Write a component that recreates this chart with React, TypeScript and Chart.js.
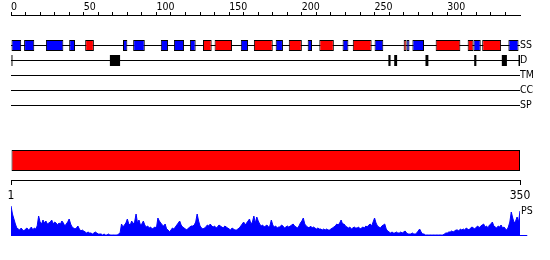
import React, { useEffect, useRef } from 'react';
import { Chart, registerables } from 'chart.js';

Chart.register(...registerables);

// ---------- data ----------
const SEQ_MAX = 350;
const topTickStep = 10;
const topLabelStep = 50;
const topLastTick = 340;
const bottomTickValues = [1, 350];

const trackNames = ['SS', 'D', 'TM', 'CC', 'SP'];
const psLabel = 'PS';

// secondary structure: helices (red) and strands (blue), residue ranges
const helixSegments: [number, number][] = [
  [51, 57], [132, 138], [140, 152], [167, 180], [191, 200], [212, 222],
  [235, 248], [270, 272], [292, 309], [314, 318], [324, 337],
];
const strandSegments: [number, number][] = [
  [0, 7], [9, 16], [24, 36], [40, 44], [77, 80], [84, 92], [103, 108],
  [112, 119], [123, 127], [158, 163], [182, 187], [204, 207], [228, 232],
  [250, 256], [272, 274], [276, 284], [318, 323], [342, 349],
];
// disordered regions
const disorderSegments: [number, number][] = [
  [0, 1], [68, 75], [259.5, 261], [263.5, 265.5], [285, 287],
  [318.5, 320], [337.5, 341], [349, 350],
];
// domain bar
const domainSegments: [number, number][] = [[0, 350]];

// PS profile, residues 0..350
const psScores = [
  30, 22, 17, 12, 8, 7, 6, 8, 6, 5,
  7, 8, 6, 7, 9, 6, 8, 7, 10, 20,
  14, 12, 16, 13, 15, 12, 13, 14, 16, 12,
  14, 13, 11, 13, 12, 15, 13, 10, 12, 14,
  17, 12, 9, 8, 7, 8, 10, 7, 5, 6,
  5, 4, 3, 4, 3, 3, 2, 3, 4, 3,
  2, 2, 2, 1, 2, 1, 1, 2, 1, 1,
  1, 1, 1, 1, 2, 3, 12, 9, 11, 13,
  17, 12, 11, 15, 12, 14, 22, 13, 16, 11,
  12, 15, 11, 9, 10, 8, 9, 7, 8, 9,
  8, 18, 15, 13, 11, 10, 12, 7, 6, 4,
  6, 8, 7, 9, 11, 13, 15, 11, 9, 8,
  7, 6, 8, 9, 10, 10, 11, 14, 22, 15,
  10, 8, 7, 8, 9, 11, 10, 12, 10, 9,
  10, 8, 9, 11, 10, 9, 8, 10, 9, 8,
  7, 6, 8, 7, 6, 6, 7, 8, 10, 12,
  14, 11, 13, 15, 17, 12, 14, 20, 13, 19,
  15, 12, 10, 11, 9, 10, 11, 9, 10, 16,
  11, 9, 10, 8, 9, 9, 11, 10, 8, 9,
  10, 9, 10, 11, 12, 10, 9, 8, 10, 13,
  15, 18, 12, 10, 9, 8, 10, 8, 9, 8,
  7, 8, 7, 7, 6, 7, 6, 7, 6, 6,
  7, 8, 9, 10, 12, 11, 13, 16, 12, 12,
  10, 9, 8, 9, 7, 8, 9, 8, 8, 9,
  7, 8, 9, 8, 10, 9, 11, 12, 10, 14,
  18, 13, 10, 9, 8, 10, 11, 12, 7, 5,
  4, 3, 4, 3, 3, 4, 3, 3, 4, 3,
  4, 5, 3, 2, 2, 2, 3, 2, 2, 3,
  5, 7, 4, 2, 2, 1, 1, 1, 1, 1,
  1, 1, 1, 1, 1, 1, 1, 1, 2, 3,
  3, 4, 4, 5, 4, 5, 6, 6, 5, 7,
  6, 7, 6, 8, 7, 6, 8, 9, 8, 7,
  9, 10, 8, 10, 11, 12, 9, 10, 8, 11,
  12, 14, 10, 9, 8, 10, 9, 11, 8, 9,
  7, 6, 9, 14, 24, 18, 13, 15, 19, 14,
  25,
];

// ---------- layout / style ----------
const FONT = "'DejaVu Sans Condensed', 'DejaVu Sans', sans-serif";
const TRACK_Y = [45.5, 60.5, 75.5, 90.5, 105.5];
const DOMAIN_Y = 160.5;
const BOTTOM_AXIS_Y = 180.5;
const PS_LABEL_Y = 25;
const RED = '#ff0000';
const BLUE = '#0000ff';
const BLACK = '#000000';

function segData(segs: [number, number][], y: number) {
  return segs.map(([s, e]) => ({ x: [s, e], y }));
}

export default function App() {
  const ref = useRef<HTMLCanvasElement>(null);

  useEffect(() => {
    document.body.style.margin = '0';
    const canvas = ref.current;
    if (!canvas) return;

    const trackLabels = {
      id: 'trackLabels',
      afterDraw(chart: any) {
        const { ctx, scales } = chart;
        const x = scales.x.getPixelForValue(SEQ_MAX);
        ctx.save();
        ctx.fillStyle = BLACK;
        ctx.font = `10.5px ${FONT}`;
        ctx.textAlign = 'left';
        ctx.textBaseline = 'middle';
        trackNames.forEach((n, i) => {
          ctx.fillText(n, x, scales.row.getPixelForValue(TRACK_Y[i]));
        });
        ctx.fillText(psLabel, x + 1, scales.ps.getPixelForValue(PS_LABEL_Y));
        ctx.restore();
      },
    };

    const barCommon: any = {
      type: 'bar',
      indexAxis: 'y',
      xAxisID: 'x',
      yAxisID: 'row',
      grouped: false,
      categoryPercentage: 1,
      barPercentage: 100,
      borderSkipped: false,
      order: 1,
    };
    const lineCommon: any = {
      type: 'line',
      xAxisID: 'x',
      yAxisID: 'row',
      borderColor: BLACK,
      borderWidth: 1,
      pointRadius: 0,
      fill: false,
      order: 5,
    };

    const chart = new Chart(canvas, {
      type: 'line',
      data: {
        datasets: [
          ...TRACK_Y.map((y) => ({ ...lineCommon, data: [{ x: 0, y }, { x: SEQ_MAX, y }] })),
          { ...barCommon, data: segData(strandSegments, TRACK_Y[0]), backgroundColor: BLUE, borderColor: BLACK, borderWidth: 1, maxBarThickness: 11 },
          { ...barCommon, data: segData(helixSegments, TRACK_Y[0]), backgroundColor: RED, borderColor: BLACK, borderWidth: 1, maxBarThickness: 11 },
          { ...barCommon, data: segData(disorderSegments, TRACK_Y[1]), backgroundColor: BLACK, borderWidth: 0, maxBarThickness: 11 },
          { ...barCommon, data: segData(domainSegments, DOMAIN_Y), backgroundColor: RED, borderColor: BLACK, borderWidth: 1, maxBarThickness: 21 },
          {
            type: 'line', xAxisID: 'x', yAxisID: 'ps',
            data: psScores.map((v, i) => ({ x: i, y: v })),
            borderColor: BLUE, backgroundColor: BLUE, borderWidth: 1,
            pointRadius: 0, fill: 'origin', tension: 0, order: 3,
          },
          {
            type: 'line', xAxisID: 'x', yAxisID: 'ps',
            data: [{ x: SEQ_MAX, y: 0.5 }, { x: SEQ_MAX + 5, y: 0.5 }],
            borderColor: BLUE, borderWidth: 1, pointRadius: 0, fill: false, clip: false, order: 3,
          },
        ] as any,
      },
      options: {
        responsive: false,
        animation: false,
        events: [],
        layout: { padding: { left: 11, right: 30, top: 0, bottom: 0 } },
        plugins: { legend: { display: false }, tooltip: { enabled: false } },
        scales: {
          x: {
            type: 'linear', axis: 'x', position: 'top', min: 0, max: SEQ_MAX, offset: false,
            afterBuildTicks: (s: any) => { s.ticks = s.ticks.filter((t: any) => t.value <= topLastTick); },
            afterFit: (s: any) => { s.height = 15; },
            ticks: {
              stepSize: topTickStep, autoSkip: false, maxRotation: 0, minRotation: 0,
              align: 'start', padding: -2, color: BLACK,
              font: { family: FONT, size: 10.5 },
              callback: (v: any) => (Number(v) % topLabelStep === 0 ? String(v) : ''),
            },
            grid: { drawOnChartArea: false, tickLength: 3, color: BLACK, tickColor: BLACK, offset: false },
            border: { display: true, color: BLACK, width: 1 },
          },
          x2: {
            type: 'linear', axis: 'x', position: { row: BOTTOM_AXIS_Y }, min: 1, max: SEQ_MAX, offset: false,
            afterBuildTicks: (s: any) => { s.ticks = bottomTickValues.map((v) => ({ value: v })); },
            ticks: {
              autoSkip: false, maxRotation: 0, minRotation: 0, padding: 4, color: BLACK,
              font: { family: FONT, size: 12 },
              callback: (v: any) => String(v),
            },
            grid: { drawOnChartArea: false, tickLength: 4, color: BLACK, tickColor: BLACK, offset: false },
            border: { display: true, color: BLACK, width: 1 },
          },
          row: { type: 'linear', axis: 'y', display: false, reverse: true, min: 15, max: 260, offset: false, grid: { offset: false } },
          ps: { type: 'linear', axis: 'y', display: false, min: -24, max: 221, offset: false },
        } as any,
      },
      plugins: [trackLabels],
    });

    return () => chart.destroy();
  }, []);

  return <canvas ref={ref} width={550} height={260} style={{ display: 'block' }} />;
}
